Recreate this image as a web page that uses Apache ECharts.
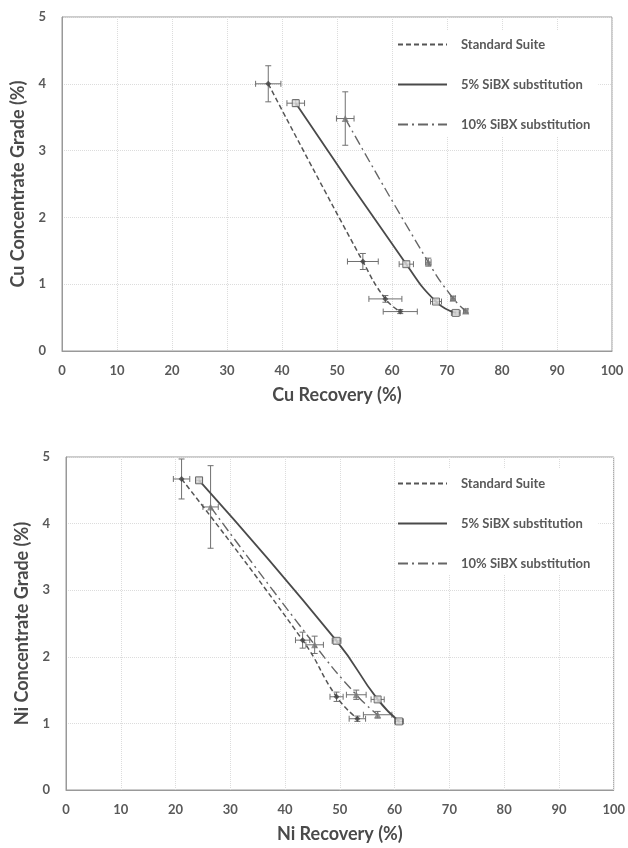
<!DOCTYPE html>
<html>
<head>
<meta charset="utf-8">
<script src="https://cdn.jsdelivr.net/npm/echarts@6/dist/echarts.min.js"></script>
<style>
html, body { margin: 0; padding: 0; background: #fff; }
#main { width: 628px; height: 848px; }
</style>
</head>
<body>
<div id="main"></div>
<script>
// series names and axis ticks
const seriesNames = ['Standard Suite', '5% SiBX substitution', '10% SiBX substitution'];
const xTicks = [0, 10, 20, 30, 40, 50, 60, 70, 80, 90, 100];
const yTicks = [0, 1, 2, 3, 4, 5];

// Cu: recovery (%), grade (%), errors
const cuStdX = [37.5, 54.7, 58.8, 61.5];
const cuStdY = [4.0, 1.34, 0.78, 0.59];
const cuStdXErr = [2.3, 2.8, 3.0, 3.1];
const cuStdYErr = [0.27, 0.12, 0.05, 0.03];

const cu5X = [42.5, 62.6, 68.0, 71.6];
const cu5Y = [3.71, 1.30, 0.74, 0.57];
const cu5XErr = [1.6, 1.3, 1.0, 0.8];
const cu5YErr = [0.05, 0.04, 0.03, 0.03];

const cu10X = [51.5, 66.6, 71.1, 73.4];
const cu10Y = [3.48, 1.33, 0.79, 0.60];
const cu10XErr = [1.6, 0.5, 0.4, 0.4];
const cu10YErr = [0.40, 0.06, 0.03, 0.03];

// Ni: recovery (%), grade (%), errors
const niStdX = [21.1, 43.2, 49.4, 53.2];
const niStdY = [4.67, 2.25, 1.40, 1.07];
const niStdXErr = [1.5, 1.3, 1.2, 1.5];
const niStdYErr = [0.30, 0.12, 0.07, 0.04];

const ni5X = [24.3, 49.4, 56.9, 60.8];
const ni5Y = [4.65, 2.24, 1.36, 1.03];
const ni5XErr = [0.6, 0.8, 1.2, 0.8];
const ni5YErr = [0.04, 0.04, 0.04, 0.03];

const ni10X = [26.4, 45.4, 53.0, 56.9];
const ni10Y = [4.25, 2.18, 1.43, 1.13];
const ni10XErr = [1.4, 1.6, 1.8, 2.6];
const ni10YErr = [0.62, 0.13, 0.07, 0.05];

const FONT = 'Lato';
const TICK_COLOR = '#595959';

function errorBarItem(params, api) {
    const x = api.value(0), y = api.value(1), ex = api.value(2), ey = api.value(3);
    const l = api.coord([x - ex, y]), r = api.coord([x + ex, y]);
    const t = api.coord([x, y + ey]), b = api.coord([x, y - ey]);
    const cap = 3;
    const style = { stroke: '#707070', lineWidth: 1 };
    const line = (x1, y1, x2, y2) => ({ type: 'line', shape: { x1, y1, x2, y2 }, style });
    return {
        type: 'group',
        children: [
            line(l[0], l[1], r[0], r[1]),
            line(l[0], l[1] - cap, l[0], l[1] + cap),
            line(r[0], r[1] - cap, r[0], r[1] + cap),
            line(t[0], t[1], b[0], b[1]),
            line(t[0] - cap, t[1], t[0] + cap, t[1]),
            line(b[0] - cap, b[1], b[0] + cap, b[1])
        ]
    };
}

const lineStyles = [
    { color: '#555', width: 1.5, type: [5, 3] },
    { color: '#4a4a4a', width: 1.8, type: 'solid' },
    { color: '#666', width: 1.4, type: [10, 4, 2, 4] }
];
const markers = [
    { symbol: 'diamond', symbolSize: 6, itemStyle: { color: '#444' } },
    { symbol: 'rect', symbolSize: 7, itemStyle: { color: '#ddd', borderColor: '#555', borderWidth: 1 } },
    { symbol: 'triangle', symbolSize: 7, itemStyle: { color: '#777' } }
];

function makeSet(gi, k, xs, ys, xe, ye) {
    const pts = xs.map((x, i) => [x, ys[i]]);
    const errs = xs.map((x, i) => [x, ys[i], xe[i], ye[i]]);
    return [
        {
            type: 'custom', name: seriesNames[k] + ' error', xAxisIndex: gi, yAxisIndex: gi,
            renderItem: errorBarItem, encode: { x: 0, y: 1 }, data: errs, z: 2, silent: true
        },
        {
            type: 'line', name: seriesNames[k], xAxisIndex: gi, yAxisIndex: gi,
            data: pts, smooth: 0.5, symbol: 'none', lineStyle: lineStyles[k],
            itemStyle: { color: lineStyles[k].color }, z: 3
        },
        Object.assign({
            type: 'scatter', name: seriesNames[k] + ' marker', xAxisIndex: gi, yAxisIndex: gi,
            data: pts, z: 4
        }, markers[k])
    ];
}

function xAxis(gi, name) {
    return {
        type: 'value', gridIndex: gi, min: xTicks[0], max: xTicks[xTicks.length - 1], interval: 10,
        name: name, nameLocation: 'middle', nameGap: 35,
        nameTextStyle: { fontFamily: FONT, fontSize: 18, fontWeight: 'bold', color: '#4a4a4a' },
        axisLine: { show: true, lineStyle: { color: '#999' } },
        axisTick: { show: false },
        axisLabel: { margin: 13, fontFamily: FONT, fontSize: 13, fontWeight: 'bold', color: TICK_COLOR },
        splitLine: { show: true, lineStyle: { color: '#dcdcdc', type: 'dotted' } }
    };
}
function yAxis(gi, name) {
    return {
        type: 'value', gridIndex: gi, min: yTicks[0], max: yTicks[yTicks.length - 1], interval: 1,
        name: name, nameLocation: 'middle', nameGap: 23, nameRotate: 90,
        nameTextStyle: { fontFamily: FONT, fontSize: 18, fontWeight: 'bold', color: '#4a4a4a' },
        axisLine: { show: true, lineStyle: { color: '#999' } },
        axisTick: { show: false },
        axisLabel: { margin: 16, fontFamily: FONT, fontSize: 13, fontWeight: 'bold', color: TICK_COLOR },
        splitLine: { show: true, lineStyle: { color: '#dcdcdc', type: 'dotted' } }
    };
}
function legend(gi, top) {
    return {
        data: seriesNames, orient: 'vertical', left: 397, top: top,
        backgroundColor: '#fff', padding: [8, 8, 5, 0],
        itemWidth: 49, itemHeight: 14, itemGap: 27,
        itemStyle: { opacity: 0 },
        textStyle: { fontFamily: FONT, fontSize: 13, fontWeight: 'bold', color: TICK_COLOR, padding: [0, 0, 0, 9] },
        selectedMode: false, z: 10
    };
}

const chart = echarts.init(document.getElementById('main'));
chart.setOption({
    backgroundColor: '#fff',
    animation: false,
    grid: [
        { left: 62, top: 17, width: 550, height: 334, show: true, borderColor: '#999', borderWidth: 1 },
        { left: 66, top: 457, width: 550, height: 333, show: true, borderColor: '#999', borderWidth: 1 }
    ],
    xAxis: [xAxis(0, 'Cu Recovery (%)'), xAxis(1, 'Ni Recovery (%)')],
    yAxis: [yAxis(0, 'Cu Concentrate Grade (%)'), yAxis(1, 'Ni Concentrate Grade (%)')],
    legend: [legend(0, 30), legend(1, 469)],
    series: [].concat(
        makeSet(0, 0, cuStdX, cuStdY, cuStdXErr, cuStdYErr),
        makeSet(0, 1, cu5X, cu5Y, cu5XErr, cu5YErr),
        makeSet(0, 2, cu10X, cu10Y, cu10XErr, cu10YErr),
        makeSet(1, 0, niStdX, niStdY, niStdXErr, niStdYErr),
        makeSet(1, 1, ni5X, ni5Y, ni5XErr, ni5YErr),
        makeSet(1, 2, ni10X, ni10Y, ni10XErr, ni10YErr)
    )
});
</script>
</body>
</html>
